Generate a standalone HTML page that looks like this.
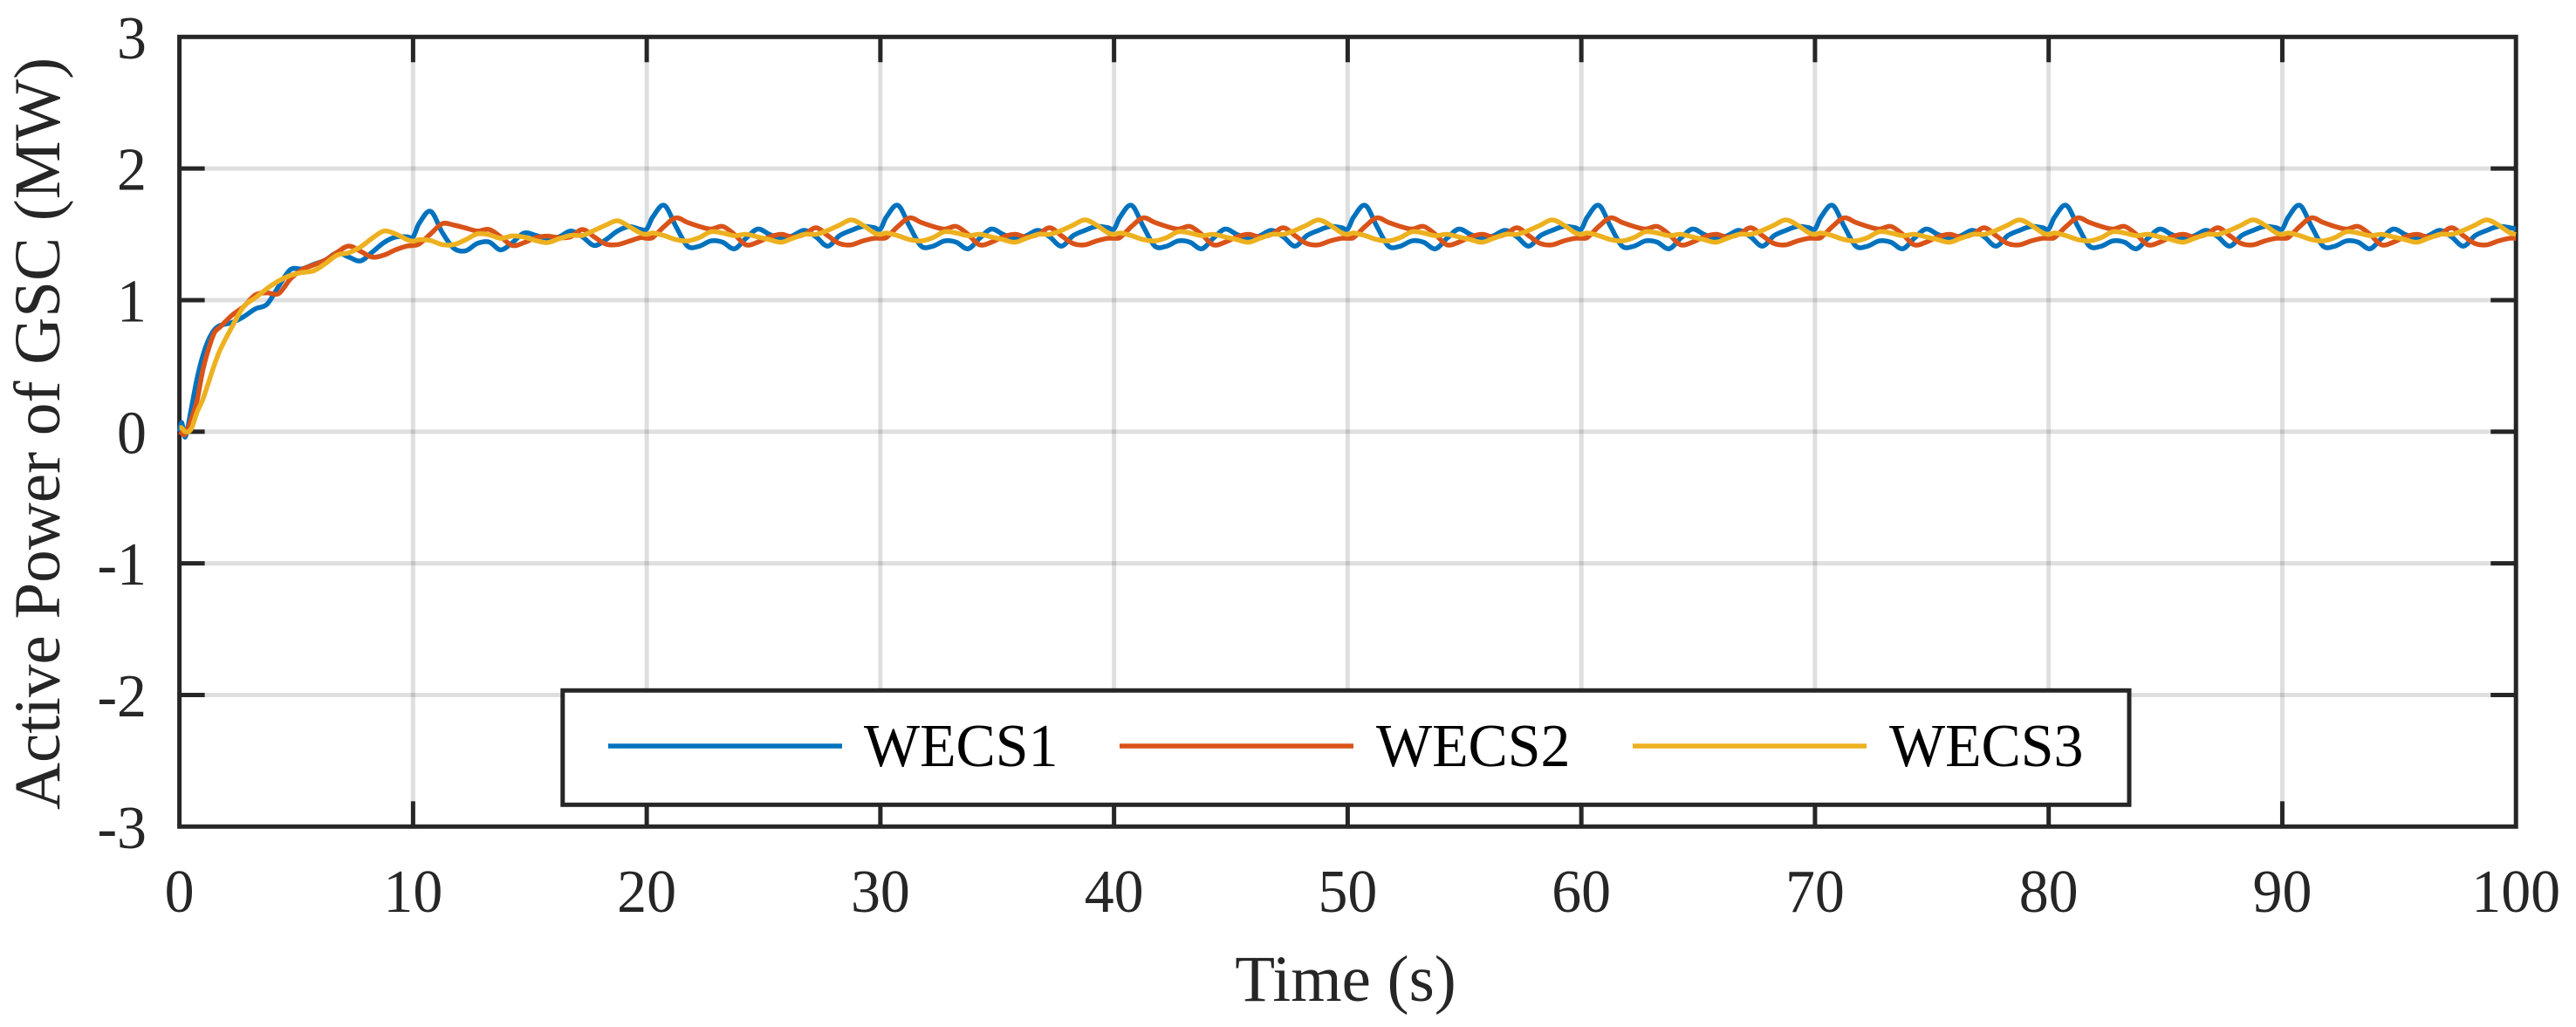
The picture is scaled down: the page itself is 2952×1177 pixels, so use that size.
<!DOCTYPE html>
<html lang="en">
<head>
<meta charset="utf-8">
<title>Active Power of GSC</title>
<style>
html,body{margin:0;padding:0;background:#fff;}
svg{display:block;}
text{font-family:"Liberation Serif",serif;}
</style>
</head>
<body>
<svg id="chart" xmlns="http://www.w3.org/2000/svg" width="2952" height="1177" viewBox="0 0 2952 1177">
  <rect x="0" y="0" width="2952" height="1177" fill="#ffffff"/>
  <g id="grid"></g>
  <g id="ticks"></g>
  <rect x="205.6" y="42.3" width="2677.6" height="905" fill="none" stroke="#262626" stroke-width="5"/>
  <g id="series"></g>
  <g id="tick-labels"></g>
  <text x="1542" y="1147" font-size="75" fill="#262626" text-anchor="middle">Time (s)</text>
  <text transform="translate(68,497) rotate(-90)" font-size="75" fill="#262626" text-anchor="middle">Active Power of GSC (MW)</text>
  <g>
    <rect x="644.8" y="791.3" width="1795.2" height="131" fill="#ffffff" stroke="#262626" stroke-width="5"/>
    <line x1="697" y1="855" x2="965" y2="855" stroke="#0072BD" stroke-width="5.5"/>
    <text transform="translate(990,878) scale(.97,1)" font-size="70" fill="#000000">WECS1</text>
    <line x1="1283" y1="855" x2="1551" y2="855" stroke="#D95319" stroke-width="5.5"/>
    <text transform="translate(1577,878) scale(.97,1)" font-size="70" fill="#000000">WECS2</text>
    <line x1="1871" y1="855" x2="2139" y2="855" stroke="#EDB120" stroke-width="5.5"/>
    <text transform="translate(2165,878) scale(.97,1)" font-size="70" fill="#000000">WECS3</text>
  </g>
</svg>
<script>
const xTickValues = [0,10,20,30,40,50,60,70,80,90,100];
const yTickValues = [3,2,1,0,-1,-2,-3];

const times = [
0,.1,.25,.5,.75,1,1.25,1.5,1.75,2.25,2.75,3.25,3.75,4.25,4.75,5.25,5.75,6.25,6.75,7.25,7.75,8.25,8.75,9.25,9.75,
10,10.25,10.75,11.25,11.75,12.25,12.75,13.25,13.75,14.25,14.75,15.25,15.75,16.25,16.75,17.25,17.75,18.25,18.75,19.25,19.75,
20,20.25,20.75,21.25,21.75,22.25,22.75,23.25,23.75,24.25,24.75,25.25,25.75,26.25,26.75,27.25,27.75,28.25,28.75,29.25,29.75,
30,30.25,30.75,31.25,31.75,32.25,32.75,33.25,33.75,34.25,34.75,35.25,35.75,36.25,36.75,37.25,37.75,38.25,38.75,39.25,39.75,
40,40.25,40.75,41.25,41.75,42.25,42.75,43.25,43.75,44.25,44.75,45.25,45.75,46.25,46.75,47.25,47.75,48.25,48.75,49.25,49.75,
50,50.25,50.75,51.25,51.75,52.25,52.75,53.25,53.75,54.25,54.75,55.25,55.75,56.25,56.75,57.25,57.75,58.25,58.75,59.25,59.75,
60,60.25,60.75,61.25,61.75,62.25,62.75,63.25,63.75,64.25,64.75,65.25,65.75,66.25,66.75,67.25,67.75,68.25,68.75,69.25,69.75,
70,70.25,70.75,71.25,71.75,72.25,72.75,73.25,73.75,74.25,74.75,75.25,75.75,76.25,76.75,77.25,77.75,78.25,78.75,79.25,79.75,
80,80.25,80.75,81.25,81.75,82.25,82.75,83.25,83.75,84.25,84.75,85.25,85.75,86.25,86.75,87.25,87.75,88.25,88.75,89.25,89.75,
90,90.25,90.75,91.25,91.75,92.25,92.75,93.25,93.75,94.25,94.75,95.25,95.75,96.25,96.75,97.25,97.75,98.25,98.75,99.25,99.75,
100];

const wecs1 = [
0,.07,-.04,.168,.40,.576,.70,.775,.808,.83,.874,.934,.969,1.106,1.232,1.238,1.272,1.305,1.36,1.327,1.298,1.364,1.437,1.479,1.481,
1.48,1.58,1.675,1.514,1.393,1.375,1.431,1.442,1.382,1.437,1.51,1.492,1.47,1.481,1.525,1.481,1.415,1.459,1.525,1.559,1.537,
1.54,1.63,1.72,1.56,1.41,1.41,1.45,1.44,1.39,1.47,1.54,1.50,1.47,1.49,1.53,1.48,1.41,1.49,1.53,1.56,1.55,
1.54,1.63,1.72,1.56,1.41,1.41,1.45,1.44,1.39,1.47,1.54,1.50,1.47,1.49,1.53,1.48,1.41,1.49,1.53,1.56,1.55,
1.54,1.63,1.72,1.56,1.41,1.41,1.45,1.44,1.39,1.47,1.54,1.50,1.47,1.49,1.53,1.48,1.41,1.49,1.53,1.56,1.55,
1.54,1.63,1.72,1.56,1.41,1.41,1.45,1.44,1.39,1.47,1.54,1.50,1.47,1.49,1.53,1.48,1.41,1.49,1.53,1.56,1.55,
1.54,1.63,1.72,1.56,1.41,1.41,1.45,1.44,1.39,1.47,1.54,1.50,1.47,1.49,1.53,1.48,1.41,1.49,1.53,1.56,1.55,
1.54,1.63,1.72,1.56,1.41,1.41,1.45,1.44,1.39,1.47,1.54,1.50,1.47,1.49,1.53,1.48,1.41,1.49,1.53,1.56,1.55,
1.54,1.63,1.72,1.56,1.41,1.41,1.45,1.44,1.39,1.47,1.54,1.50,1.47,1.49,1.53,1.48,1.41,1.49,1.53,1.56,1.55,
1.54,1.63,1.72,1.56,1.41,1.41,1.45,1.44,1.39,1.47,1.54,1.50,1.47,1.49,1.53,1.48,1.41,1.49,1.53,1.56,1.55,
1.54];

const wecs2 = [
0,-.01,-.02,.09,.234,.466,.631,.753,.797,.885,.951,1.04,1.055,1.05,1.161,1.232,1.267,1.305,1.364,1.411,1.371,1.327,1.342,1.382,1.411,
1.415,1.426,1.503,1.581,1.57,1.548,1.525,1.537,1.481,1.415,1.437,1.475,1.486,1.475,1.481,1.537,1.481,1.426,1.422,1.448,1.475,
1.47,1.475,1.56,1.625,1.59,1.56,1.54,1.56,1.50,1.42,1.44,1.48,1.50,1.48,1.50,1.55,1.49,1.43,1.42,1.45,1.47,
1.47,1.475,1.56,1.625,1.59,1.56,1.54,1.56,1.50,1.42,1.44,1.48,1.50,1.48,1.50,1.55,1.49,1.43,1.42,1.45,1.47,
1.47,1.475,1.56,1.625,1.59,1.56,1.54,1.56,1.50,1.42,1.44,1.48,1.50,1.48,1.50,1.55,1.49,1.43,1.42,1.45,1.47,
1.47,1.475,1.56,1.625,1.59,1.56,1.54,1.56,1.50,1.42,1.44,1.48,1.50,1.48,1.50,1.55,1.49,1.43,1.42,1.45,1.47,
1.47,1.475,1.56,1.625,1.59,1.56,1.54,1.56,1.50,1.42,1.44,1.48,1.50,1.48,1.50,1.55,1.49,1.43,1.42,1.45,1.47,
1.47,1.475,1.56,1.625,1.59,1.56,1.54,1.56,1.50,1.42,1.44,1.48,1.50,1.48,1.50,1.55,1.49,1.43,1.42,1.45,1.47,
1.47,1.475,1.56,1.625,1.59,1.56,1.54,1.56,1.50,1.42,1.44,1.48,1.50,1.48,1.50,1.55,1.49,1.43,1.42,1.45,1.47,
1.47,1.475,1.56,1.625,1.59,1.56,1.54,1.56,1.50,1.42,1.44,1.48,1.50,1.48,1.50,1.55,1.49,1.43,1.42,1.45,1.47,
1.47];

const wecs3 = [
.03,.03,0,.02,.146,.245,.377,.51,.625,.797,.951,1.018,1.088,1.146,1.188,1.21,1.223,1.278,1.342,1.36,1.404,1.47,1.525,1.503,1.459,
1.448,1.459,1.453,1.422,1.422,1.459,1.503,1.497,1.47,1.488,1.479,1.453,1.437,1.466,1.492,1.492,1.53,1.57,1.603,1.559,1.508,
1.50,1.51,1.49,1.46,1.45,1.475,1.52,1.51,1.49,1.50,1.48,1.46,1.44,1.47,1.50,1.50,1.53,1.57,1.61,1.57,1.51,
1.50,1.51,1.49,1.46,1.45,1.475,1.52,1.51,1.49,1.50,1.48,1.46,1.44,1.47,1.50,1.50,1.53,1.57,1.61,1.57,1.51,
1.50,1.51,1.49,1.46,1.45,1.475,1.52,1.51,1.49,1.50,1.48,1.46,1.44,1.47,1.50,1.50,1.53,1.57,1.61,1.57,1.51,
1.50,1.51,1.49,1.46,1.45,1.475,1.52,1.51,1.49,1.50,1.48,1.46,1.44,1.47,1.50,1.50,1.53,1.57,1.61,1.57,1.51,
1.50,1.51,1.49,1.46,1.45,1.475,1.52,1.51,1.49,1.50,1.48,1.46,1.44,1.47,1.50,1.50,1.53,1.57,1.61,1.57,1.51,
1.50,1.51,1.49,1.46,1.45,1.475,1.52,1.51,1.49,1.50,1.48,1.46,1.44,1.47,1.50,1.50,1.53,1.57,1.61,1.57,1.51,
1.50,1.51,1.49,1.46,1.45,1.475,1.52,1.51,1.49,1.50,1.48,1.46,1.44,1.47,1.50,1.50,1.53,1.57,1.61,1.57,1.51,
1.50,1.51,1.49,1.46,1.45,1.475,1.52,1.51,1.49,1.50,1.48,1.46,1.44,1.47,1.50,1.50,1.53,1.57,1.61,1.57,1.51,
1.50];

const NS = 'http://www.w3.org/2000/svg';
const plotLeft = 205.6, plotRight = 2883.2, plotTop = 42.3, plotBottom = 947.3;
const xMin = 0, xMax = 100, yMin = -3, yMax = 3;
const tickLength = 29;

function xScale(v){ return plotLeft + (v - xMin) / (xMax - xMin) * (plotRight - plotLeft); }
function yScale(v){ return plotBottom - (v - yMin) / (yMax - yMin) * (plotBottom - plotTop); }

function makeLine(x1, y1, x2, y2, stroke, width, opacity){
  const el = document.createElementNS(NS, 'line');
  el.setAttribute('x1', x1);
  el.setAttribute('y1', y1);
  el.setAttribute('x2', x2);
  el.setAttribute('y2', y2);
  el.setAttribute('stroke', stroke);
  el.setAttribute('stroke-width', width);
  if (opacity !== undefined) el.setAttribute('stroke-opacity', opacity);
  return el;
}

function smoothPath(ts, ys){
  const n = ts.length;
  const slopes = [];
  for (let i = 0; i < n; i++) {
    const a = Math.max(0, i - 1), b = Math.min(n - 1, i + 1);
    slopes.push((ys[b] - ys[a]) / (ts[b] - ts[a]));
  }
  let d = 'M' + xScale(ts[0]).toFixed(2) + ' ' + yScale(ys[0]).toFixed(2);
  for (let i = 0; i < n - 1; i++) {
    const dt = ts[i + 1] - ts[i];
    const c1x = xScale(ts[i] + dt / 3), c1y = yScale(ys[i] + slopes[i] * dt / 3);
    const c2x = xScale(ts[i + 1] - dt / 3), c2y = yScale(ys[i + 1] - slopes[i + 1] * dt / 3);
    d += 'C' + c1x.toFixed(2) + ' ' + c1y.toFixed(2) + ' ' + c2x.toFixed(2) + ' ' + c2y.toFixed(2) + ' ' + xScale(ts[i + 1]).toFixed(2) + ' ' + yScale(ys[i + 1]).toFixed(2);
  }
  return d;
}

const gridGroup = document.getElementById('grid');
const tickGroup = document.getElementById('ticks');
const labelGroup = document.getElementById('tick-labels');
const seriesGroup = document.getElementById('series');

xTickValues.forEach(function(v){
  const x = xScale(v);
  if (v !== xMin && v !== xMax) {
    const g = makeLine(x, plotTop, x, plotBottom, '#262626', 5, 0.15);
    
    
    gridGroup.appendChild(g);
    const t1 = makeLine(x, plotBottom, x, plotBottom - tickLength, '#262626', 5);
    
    
    tickGroup.appendChild(t1);
    const t2 = makeLine(x, plotTop, x, plotTop + tickLength, '#262626', 5);
    
    
    tickGroup.appendChild(t2);
  }
  const label = document.createElementNS(NS, 'text');
  
  
  label.setAttribute('transform', 'translate(' + x + ',1045) scale(.97,1)');
  label.setAttribute('font-size', '70');
  label.setAttribute('fill', '#262626');
  label.setAttribute('text-anchor', 'middle');
  label.textContent = String(v);
  labelGroup.appendChild(label);
});

yTickValues.forEach(function(v){
  const y = yScale(v);
  if (v !== yMin && v !== yMax) {
    const g = makeLine(plotLeft, y, plotRight, y, '#262626', 5, 0.15);
    
    
    gridGroup.appendChild(g);
    const t1 = makeLine(plotLeft, y, plotLeft + tickLength, y, '#262626', 5);
    
    
    tickGroup.appendChild(t1);
    const t2 = makeLine(plotRight, y, plotRight - tickLength, y, '#262626', 5);
    
    
    tickGroup.appendChild(t2);
  }
  const label = document.createElementNS(NS, 'text');
  
  
  label.setAttribute('transform', 'translate(168,' + (y + 24.5) + ') scale(.97,1)');
  label.setAttribute('font-size', '70');
  label.setAttribute('fill', '#262626');
  label.setAttribute('text-anchor', 'end');
  label.textContent = String(v);
  labelGroup.appendChild(label);
});

const line1 = document.createElementNS(NS, 'path');


line1.setAttribute('d', smoothPath(times, wecs1));
line1.setAttribute('fill', 'none');
line1.setAttribute('stroke', '#0072BD');
line1.setAttribute('stroke-width', '5.5');
seriesGroup.appendChild(line1);

const line2 = document.createElementNS(NS, 'path');


line2.setAttribute('d', smoothPath(times, wecs2));
line2.setAttribute('fill', 'none');
line2.setAttribute('stroke', '#D95319');
line2.setAttribute('stroke-width', '5.5');
seriesGroup.appendChild(line2);

const line3 = document.createElementNS(NS, 'path');


line3.setAttribute('d', smoothPath(times, wecs3));
line3.setAttribute('fill', 'none');
line3.setAttribute('stroke', '#EDB120');
line3.setAttribute('stroke-width', '5.5');
seriesGroup.appendChild(line3);
</script>
</body>
</html>
